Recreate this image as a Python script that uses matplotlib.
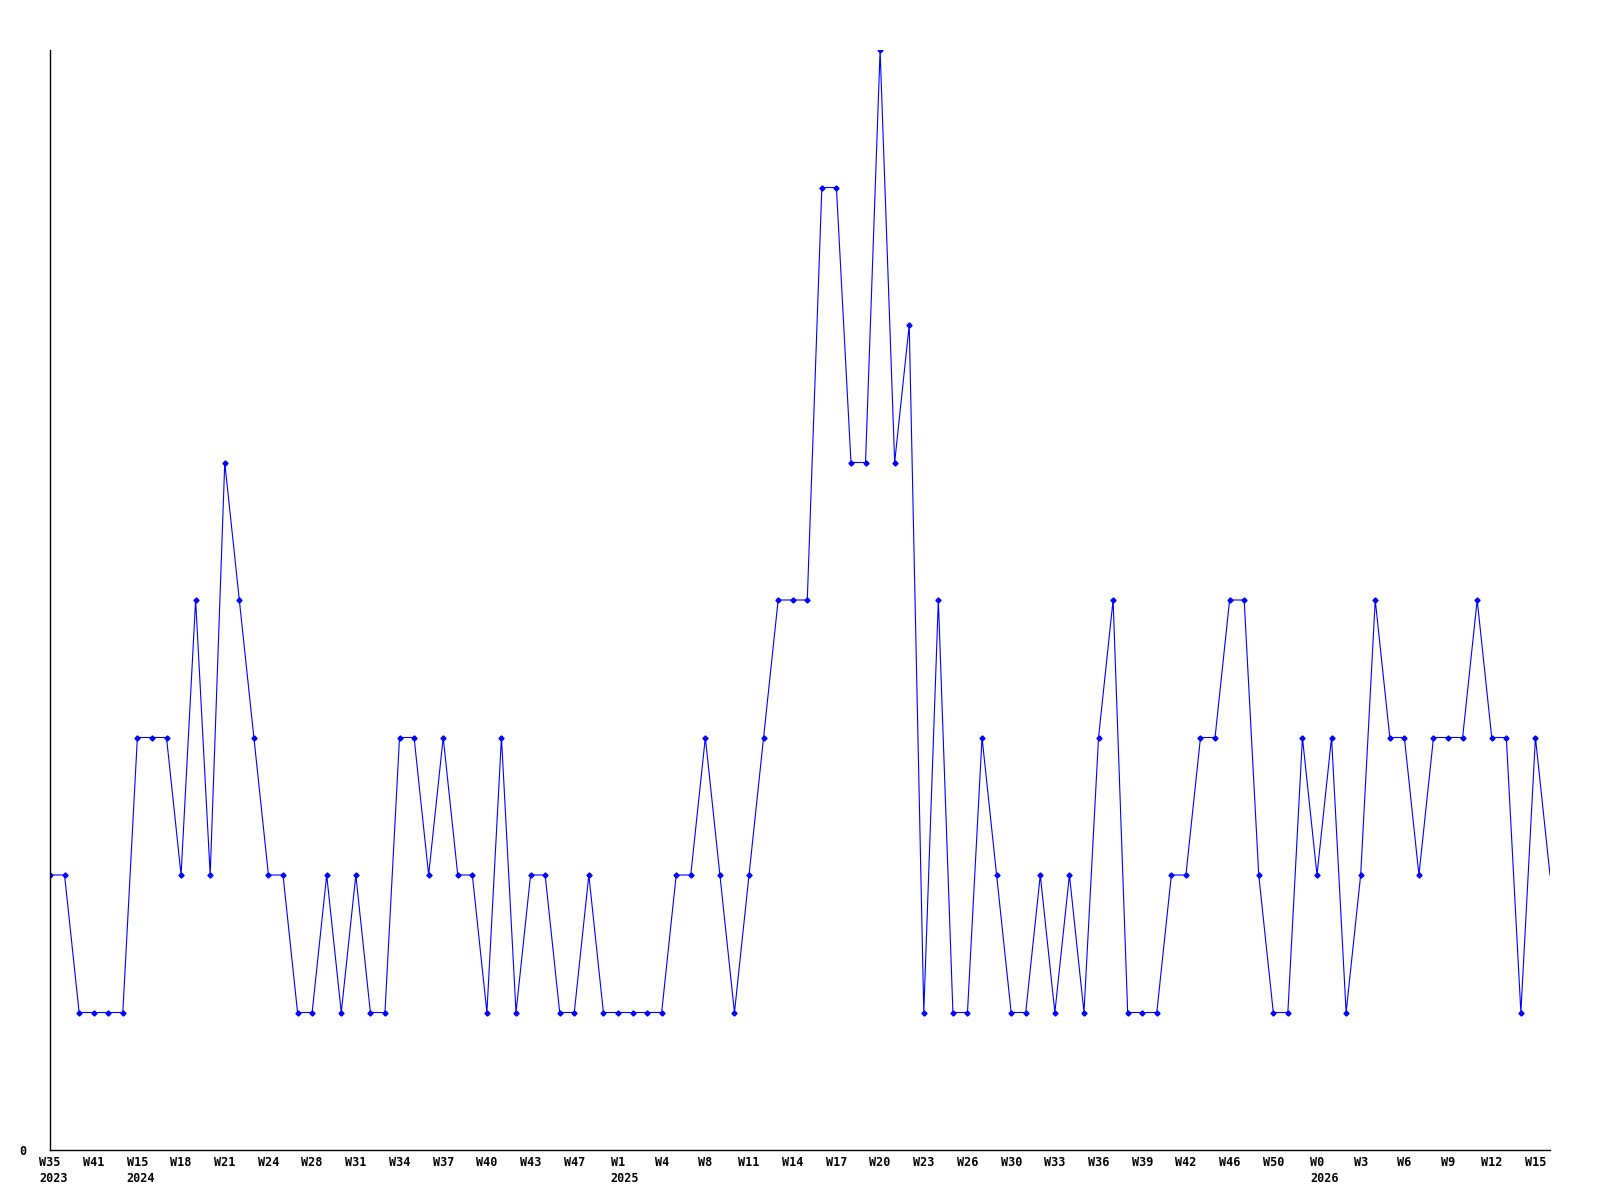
import matplotlib
matplotlib.use("Agg")
import matplotlib.pyplot as plt

# weekly counts, one per point
counts = [2, 2, 1, 1, 1, 1, 3, 3, 3, 2,
          4, 2, 5, 4, 3, 2, 2, 1, 1, 2,
          1, 2, 1, 1, 3, 3, 2, 3, 2, 2,
          1, 3, 1, 2, 2, 1, 1, 2, 1, 1,
          1, 1, 1, 2, 2, 3, 2, 1, 2, 3,
          4, 4, 4, 7, 7, 5, 5, 8, 5, 6,
          1, 4, 1, 1, 3, 2, 1, 1, 2, 1,
          2, 1, 3, 4, 1, 1, 1, 2, 2, 3,
          3, 4, 4, 2, 1, 1, 3, 2, 3, 1,
          2, 4, 3, 3, 2, 3, 3, 3, 4, 3,
          3, 1, 3, 2]

# labels shown every third point
weekLabels = ['W35', 'W41', 'W15', 'W18', 'W21', 'W24', 'W28', 'W31', 'W34',
              'W37', 'W40', 'W43', 'W47', 'W1', 'W4', 'W8', 'W11', 'W14',
              'W17', 'W20', 'W23', 'W26', 'W30', 'W33', 'W36', 'W39', 'W42',
              'W46', 'W50', 'W0', 'W3', 'W6', 'W9', 'W12', 'W15']
yearLabels = {'W35': '2023', 'W15': '2024', 'W1': '2025', 'W0': '2026'}
labelStep = 3

fig = plt.figure(figsize=(16, 12), dpi=100)
ax = fig.add_axes([50 / 1600, 1 - 1150 / 1200, 1500 / 1600, 1100 / 1200])

x = list(range(len(counts)))
ax.plot(x, counts, color='#0000ff', linewidth=0.8)
ax.plot(x[:-1], counts[:-1], linestyle='none', marker='D', markersize=2.6,
        color='#0000ff')

ax.set_xlim(0, len(counts) - 1)
ax.set_ylim(0, max(counts))
for s in ['top', 'right']:
    ax.spines[s].set_visible(False)
for s in ['left', 'bottom']:
    ax.spines[s].set_linewidth(1.0)
    ax.spines[s].set_color('black')

font = dict(family='DejaVu Sans Mono', weight='bold', size=8.5)
ax.set_yticks([0])
ax.set_yticklabels(['0'], **font)
ax.tick_params(axis='y', length=0, pad=17)
ax.set_xticks([])

charW = 0.602 * 8.5  # points per character
seen = set()
first = True
for k, w in enumerate(weekLabels):
    i = k * labelStep
    txt = w
    if w in yearLabels and (w not in seen):
        # W15 appears twice, only the first has the year
        txt = w + '\n' + yearLabels[w]
    seen.add(w)
    ax.annotate(txt, xy=(i, 0), xycoords=('data', 'axes fraction'),
                xytext=(-len(w) * charW / 2, -4), textcoords='offset points',
                ha='left', va='top', linespacing=1.35, **font)

plt.savefig('out.png', dpi=100)
